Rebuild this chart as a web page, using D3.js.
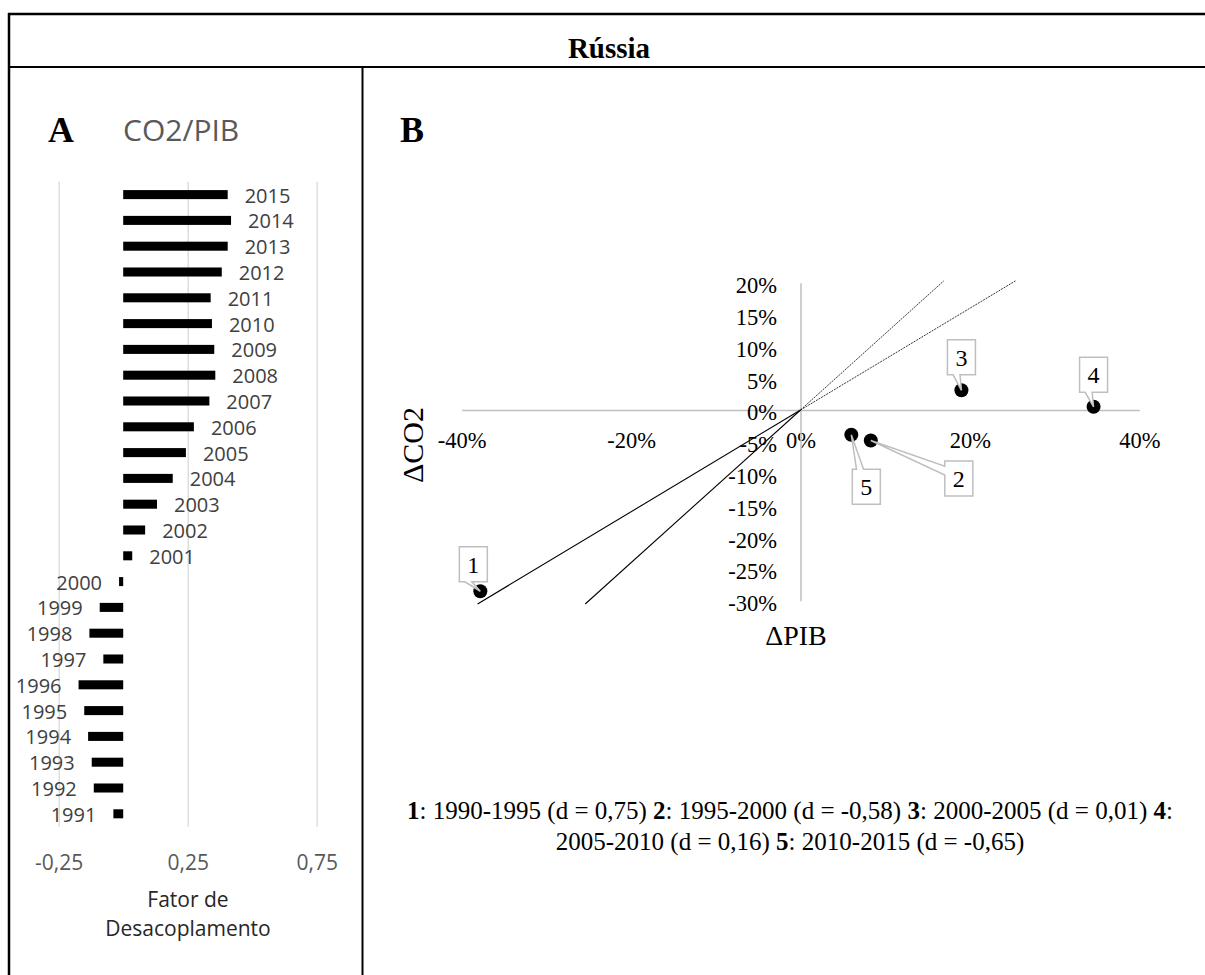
<!DOCTYPE html>
<html>
<head>
<meta charset="utf-8">
<script src="https://cdn.jsdelivr.net/npm/d3@7"></script>
<style>
  html, body { margin: 0; padding: 0; background: #fff; }
  svg { display: block; }
</style>
</head>
<body>
<script>
// ---------------- DATA ----------------
const title = "Rússia";

// Panel A: decoupling factor CO2/PIB by year
const years = [1991, 1992, 1993, 1994, 1995, 1996, 1997, 1998, 1999, 2000,
               2001, 2002, 2003, 2004, 2005, 2006, 2007, 2008, 2009, 2010,
               2011, 2012, 2013, 2014, 2015];
const decoupling = [-0.038, -0.114, -0.122, -0.136, -0.151, -0.173, -0.077, -0.131, -0.091, -0.016,
                    0.035, 0.085, 0.131, 0.192, 0.243, 0.274, 0.334, 0.357, 0.353, 0.344,
                    0.339, 0.382, 0.405, 0.418, 0.405];
const ticksA = [-0.25, 0.25, 0.75];

// Panel B: five-year periods, ΔPIB vs ΔCO2 (%)
const periodIds = ["1", "2", "3", "4", "5"];
const dPIB = [-37.8, 8.3, 19.0, 34.6, 6.0];
const dCO2 = [-28.5, -4.8, 3.1, 0.5, -3.9];
const ticksBx = [-40, -20, 0, 20, 40];
const ticksBy = [20, 15, 10, 5, 0, -5, -10, -15, -20, -25, -30];
// reference lines through the origin (slopes) and their ΔCO2 extent
const refSlopes = [1.2, 0.8];
const refExtent = [-30.5, 20.3];

// caption
const periods = ["1990-1995", "1995-2000", "2000-2005", "2005-2010", "2010-2015"];
const dValues = ["0,75", "-0,58", "0,01", "0,16", "-0,65"];

// ---------------- LAYOUT (pixels) ----------------
const W = 1205, H = 975;
const calloutOffsets = [[-7, -27], [88, 38], [0, -33], [0, -32], [15, 52]];

const svg = d3.select("body").append("svg")
  .attr("width", W).attr("height", H)
  .style("background", "#fff");

// table frame
const frame = svg.append("g").attr("stroke", "#000").attr("fill", "none");
frame.append("line").attr("x1", 8).attr("x2", W).attr("y1", 14).attr("y2", 14).attr("stroke-width", 2.5);
frame.append("line").attr("x1", 9).attr("x2", 9).attr("y1", 13).attr("y2", H).attr("stroke-width", 2.5);
frame.append("line").attr("x1", 8).attr("x2", W).attr("y1", 67).attr("y2", 67).attr("stroke-width", 2);
frame.append("line").attr("x1", 362.5).attr("x2", 362.5).attr("y1", 67).attr("y2", H).attr("stroke-width", 2);

svg.append("text").text(title)
  .attr("x", 609).attr("y", 58)
  .attr("text-anchor", "middle")
  .attr("font-family", "'Liberation Serif', 'Times New Roman', serif")
  .attr("font-weight", "bold").attr("font-size", 29);

const serif = "'Liberation Serif', 'Times New Roman', serif";
const sans = "'Open Sans', 'Noto Sans', sans-serif";

// ---------------- PANEL A ----------------
const locale = d3.formatLocale({decimal: ",", thousands: ".", grouping: [3], currency: ["", ""], minus: "-"});
const fmtA = locale.format(".2f");

svg.append("text").text("A").attr("x", 48).attr("y", 142)
  .attr("font-family", serif).attr("font-weight", "bold").attr("font-size", 36);
svg.append("text").text("CO2/PIB").attr("x", 123).attr("y", 141)
  .attr("font-family", sans).attr("font-size", 30).attr("fill", "#595959");

const xA = d3.scaleLinear().domain([-0.25, 0.75]).range([58.7, 316.7]);
const yA = d3.scaleBand().domain(years.slice().reverse()).range([181.7, 826.7])
  .paddingInner(0.65).paddingOuter(0.325);

const gA = svg.append("g");
const axA = gA.append("g").attr("transform", `translate(0,${yA.range()[1]})`)
  .call(d3.axisBottom(xA).tickValues(ticksA).tickFormat(fmtA)
    .tickSize(-(yA.range()[1] - yA.range()[0])).tickSizeOuter(0));
axA.select(".domain").remove();
axA.selectAll(".tick line").attr("stroke", "#d9d9d9").attr("stroke-width", 1.3);
axA.selectAll(".tick text").attr("y", 36).attr("dy", "0.35em")
  .attr("font-family", sans).attr("font-size", 21).attr("fill", "#595959");

const dataA = years.map((y, i) => ({year: y, v: decoupling[i]}));
gA.selectAll("rect.bar").data(dataA).enter().append("rect")
  .attr("class", "bar")
  .attr("x", d => xA(Math.min(0, d.v)))
  .attr("width", d => Math.abs(xA(d.v) - xA(0)))
  .attr("y", d => yA(d.year))
  .attr("height", yA.bandwidth())
  .attr("fill", "#000");

gA.selectAll("text.yr").data(dataA).enter().append("text")
  .attr("class", "yr")
  .text(d => d.year)
  .attr("x", d => d.v >= 0 ? xA(d.v) + 17 : xA(d.v) - 17)
  .attr("text-anchor", d => d.v >= 0 ? "start" : "end")
  .attr("y", d => yA(d.year) + yA.bandwidth() / 2)
  .attr("dy", "0.4em")
  .attr("font-family", sans).attr("font-size", 20).attr("fill", "#404040");

const titleA = svg.append("text").attr("text-anchor", "middle")
  .attr("font-family", sans).attr("font-size", 21).attr("fill", "#262626");
titleA.append("tspan").attr("x", 188).attr("y", 907).text("Fator de");
titleA.append("tspan").attr("x", 188).attr("y", 936).text("Desacoplamento");

// ---------------- PANEL B ----------------
svg.append("text").text("B").attr("x", 400).attr("y", 142)
  .attr("font-family", serif).attr("font-weight", "bold").attr("font-size", 36);

const xB = d3.scaleLinear().domain([-40, 40]).range([461.7, 1139.3]);
const yB = d3.scaleLinear().domain([-30, 20]).range([600.8, 282.8]);
const fmtPct = v => locale.format("d")(v) + "%";

const gB = svg.append("g");
const axX = gB.append("g").attr("transform", `translate(0,${yB(0)})`)
  .call(d3.axisBottom(xB).tickValues(ticksBx).tickFormat(fmtPct).tickSize(0).tickSizeOuter(0));
axX.select(".domain").attr("stroke", "#bfbfbf").attr("stroke-width", 1.5);
axX.selectAll(".tick text").attr("y", 30).attr("dy", "0.35em")
  .attr("font-family", serif).attr("font-size", 22.5).attr("fill", "#000");

const axY = gB.append("g").attr("transform", `translate(${xB(0)},0)`)
  .call(d3.axisLeft(yB).tickValues(ticksBy).tickFormat(fmtPct).tickSize(0).tickSizeOuter(0));
axY.select(".domain").attr("stroke", "#bfbfbf").attr("stroke-width", 1.5);
axY.selectAll(".tick text").attr("x", -23.5).attr("y", 2).attr("dy", "0.35em")
  .attr("font-family", serif).attr("font-size", 22.5).attr("fill", "#000");

// reference lines
refSlopes.forEach(s => {
  const lo = [refExtent[0] / s, refExtent[0]];
  const hi = [refExtent[1] / s, refExtent[1]];
  gB.append("line")
    .attr("x1", xB(lo[0])).attr("y1", yB(lo[1]))
    .attr("x2", xB(0)).attr("y2", yB(0))
    .attr("stroke", "#000").attr("stroke-width", 1.1);
  gB.append("line")
    .attr("x1", xB(0)).attr("y1", yB(0))
    .attr("x2", xB(hi[0])).attr("y2", yB(hi[1]))
    .attr("stroke", "#000").attr("stroke-width", 0.8).attr("stroke-dasharray", "2,1");
});

// axis titles
svg.append("text").text("ΔCO2")
  .attr("transform", `translate(412,445) rotate(-90)`)
  .attr("text-anchor", "middle").attr("dy", "0.35em")
  .attr("font-family", serif).attr("font-size", 30);
svg.append("text").text("ΔPIB")
  .attr("x", 796).attr("y", 645).attr("text-anchor", "middle")
  .attr("font-family", serif).attr("font-size", 28);

// points
const dataB = periodIds.map((id, i) => ({id, x: dPIB[i], y: dCO2[i], off: calloutOffsets[i]}));
gB.selectAll("circle.pt").data(dataB).enter().append("circle")
  .attr("class", "pt")
  .attr("cx", d => xB(d.x)).attr("cy", d => yB(d.y)).attr("r", 7)
  .attr("fill", "#000");

// callouts
const bw = 28, bh = 35;
function calloutPath(px, py, cx, cy) {
  const x0 = cx - bw / 2, x1 = cx + bw / 2, y0 = cy - bh / 2, y1 = cy + bh / 2;
  const dx = px - cx, dy = py - cy;
  let edge;
  if (Math.abs(dy) / bh >= Math.abs(dx) / bw) edge = dy < 0 ? "top" : "bottom";
  else edge = dx < 0 ? "left" : "right";
  const p = [];
  p.push([x0, y0]);
  if (edge === "top") { p.push([x0 + 0.15 * bw, y0], [px, py], [x0 + 0.4 * bw, y0]); }
  p.push([x1, y0]);
  if (edge === "right") { p.push([x1, y0 + 0.15 * bh], [px, py], [x1, y0 + 0.4 * bh]); }
  p.push([x1, y1]);
  if (edge === "bottom") { p.push([x0 + 0.45 * bw, y1], [px, py], [x0 + 0.2 * bw, y1]); }
  p.push([x0, y1]);
  if (edge === "left") { p.push([x0, y0 + 0.4 * bh], [px, py], [x0, y0 + 0.15 * bh]); }
  return "M" + p.map(q => q.join(",")).join("L") + "Z";
}
const co = gB.selectAll("g.callout").data(dataB).enter().append("g").attr("class", "callout");
co.append("path")
  .attr("d", d => calloutPath(xB(d.x), yB(d.y), xB(d.x) + d.off[0], yB(d.y) + d.off[1]))
  .attr("fill", "#fff").attr("stroke", "#bfbfbf").attr("stroke-width", 1.5);
co.append("text")
  .text(d => d.id)
  .attr("x", d => xB(d.x) + d.off[0]).attr("y", d => yB(d.y) + d.off[1])
  .attr("dy", "0.35em").attr("text-anchor", "middle")
  .attr("font-family", serif).attr("font-size", 24);

// caption
const cap = svg.append("g").attr("font-family", serif).attr("font-size", 25);
const line1 = cap.append("text").attr("x", 790).attr("y", 819).attr("text-anchor", "middle");
const line2 = cap.append("text").attr("x", 790).attr("y", 850).attr("text-anchor", "middle");
function addItem(t, i, withBody) {
  t.append("tspan").attr("font-weight", "bold").text(periodIds[i]);
  t.append("tspan").text(":" + (withBody ? ` ${periods[i]} (d = ${dValues[i]}) ` : ""));
}
function addBody(t, i) { t.append("tspan").text(`${periods[i]} (d = ${dValues[i]}) `); }
addItem(line1, 0, true);
addItem(line1, 1, true);
addItem(line1, 2, true);
addItem(line1, 3, false);
addBody(line2, 3);
addItem(line2, 4, true);
</script>
</body>
</html>
